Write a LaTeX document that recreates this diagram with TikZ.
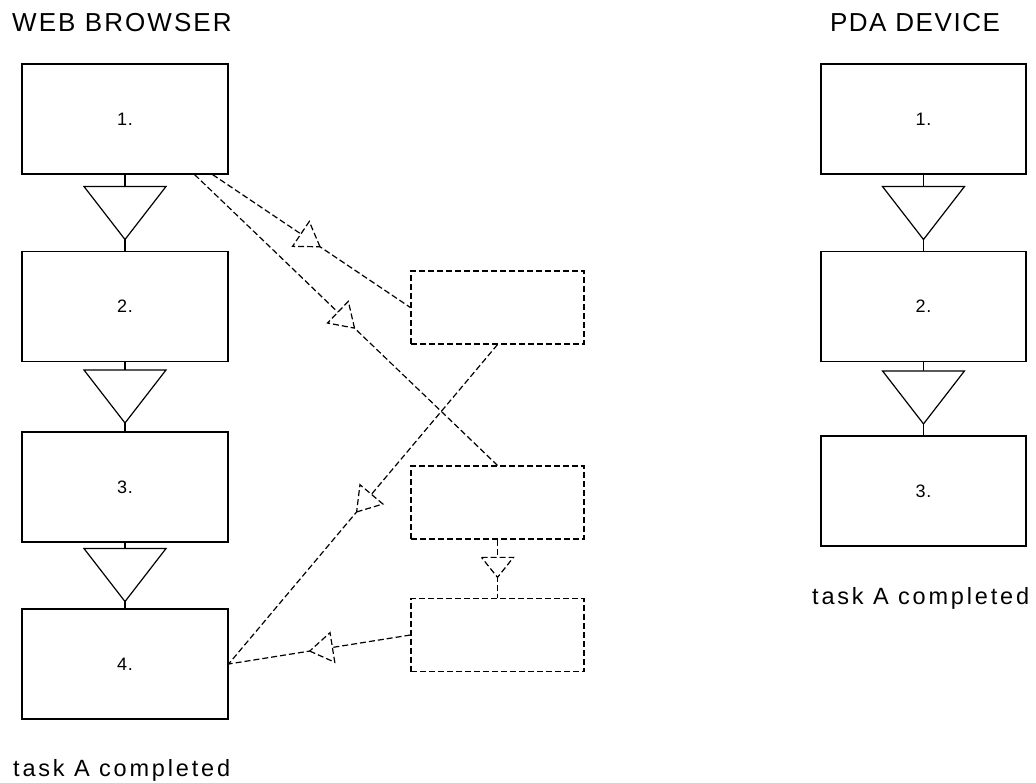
\documentclass[tikz,border=0pt]{standalone}
\usepackage{fontspec}
\setmainfont{Liberation Sans}
\newfontfamily\headfont[LetterSpace=8]{Liberation Sans}
\newfontfamily\pdafont[LetterSpace=6]{Liberation Sans}
\newfontfamily\taskfont[LetterSpace=12]{Liberation Sans}
\newfontfamily\stepfont[LetterSpace=4]{Liberation Sans}
\usetikzlibrary{decorations.markings}

\tikzset{
  stroke/.style={line width=1.2pt, line join=miter},
  dashline/.style={stroke, dash pattern=on 6pt off 3pt},
  stepbox/.style={draw, stroke, minimum width=206pt, minimum height=110pt,
    inner sep=0pt, font=\stepfont\fontsize{18}{21}\selectfont},
  subbox/.style={draw, dashline, minimum width=173pt, minimum height=73pt, inner sep=0pt},
  heading/.style={inner sep=0pt, font=\headfont\fontsize{26}{30}\selectfont},
  status/.style={inner sep=0pt, font=\taskfont\fontsize{23.5}{28}\selectfont},
  flowtri/.pic={\draw[stroke, fill=white] (-41,0) -- (41,0) -- (0,53) -- cycle;},
  subtri/.pic={\draw[dashline, fill=white] (-16,0) -- (16,0) -- (0,20) -- cycle;},
  midtri/.style={postaction={decorate}, decoration={markings,
    mark=at position #1 with {\draw[dashline, fill=white] (0,0) -- (-23,-15) -- (-23,15) -- cycle;}}}
}

\begin{document}
\begin{tikzpicture}[x=1pt, y=-1pt]
  \useasboundingbox (0,0) rectangle (1036,782);

  % column headings
  \node[heading, anchor=base west] (webhead) at (12,31) {WEB BROWSER};
  \node[heading, font=\pdafont\fontsize{26}{30}\selectfont, anchor=base] (pdahead) at (915,31.5) {PDA DEVICE};

  % web browser steps
  \node[stepbox] (w1) at (125,119) {1.};
  \node[stepbox] (w2) at (125,306.5) {2.};
  \node[stepbox] (w3) at (125,487) {3.};
  \node[stepbox] (w4) at (125,664) {4.};

  % pda steps
  \node[stepbox, minimum width=205pt] (p1) at (923.5,119) {1.};
  \node[stepbox, minimum width=205pt] (p2) at (923.5,306.5) {2.};
  \node[stepbox, minimum width=205pt] (p3) at (923.5,491) {3.};

  % intermediate dashed steps
  \node[subbox] (d1) at (497.5,307.5) {};
  \node[subbox] (d2) at (497.5,502.5) {};
  \node[subbox] (d3) at (497.5,635) {};

  % status lines
  \node[status, anchor=base west] (wdone) at (13,776) {task A completed};
  \node[status, anchor=base west] (pdone) at (812,604) {task A completed};

  % solid flow links
  \draw[stroke] (w1.south) -- (w2.north) pic[pos=0.156] {flowtri};
  \draw[stroke] (w2.south) -- (w3.north) pic[pos=0.114] {flowtri};
  \draw[stroke] (w3.south) -- (w4.north) pic[pos=0.09] {flowtri};
  \draw[stroke] (p1.south) -- (p2.north) pic[pos=0.156] {flowtri};
  \draw[stroke] (p2.south) -- (p3.north) pic[pos=0.12] {flowtri};

  % dashed flow links
  \draw[dashline] (d2.south) -- (d3.north) pic[pos=0.305] {subtri};
  \draw[dashline, midtri=0.543] ([xshift=-16pt]w1.south east) -- (d1.west);
  \draw[dashline, midtri=0.528] ([xshift=-34pt]w1.south east) -- (d2.north);
  \draw[dashline, midtri=0.524] (d1.south) -- (w4.east);
  \draw[dashline, midtri=0.554] (d3.west) -- (w4.east);
\end{tikzpicture}
\end{document}
